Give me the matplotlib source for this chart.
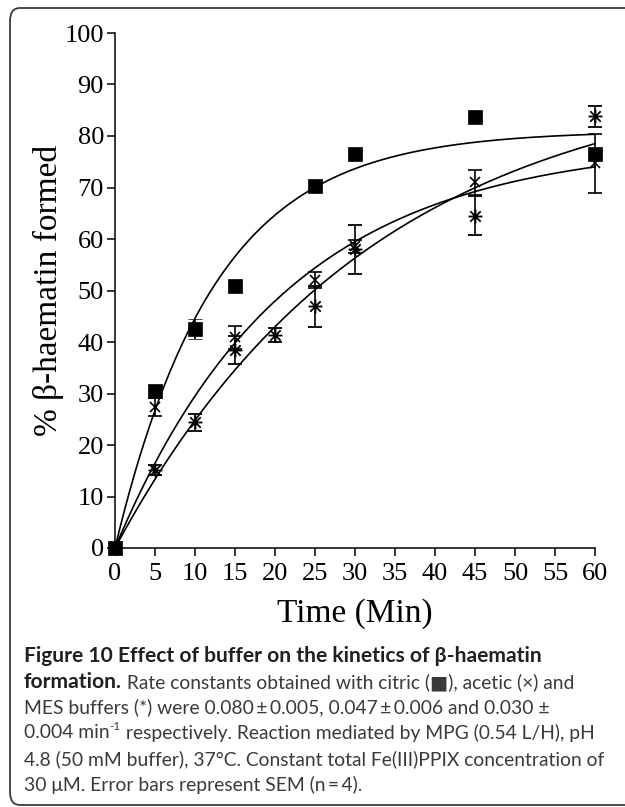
import numpy as np
import matplotlib
matplotlib.use("Agg")
import matplotlib.pyplot as plt
from matplotlib.patches import FancyBboxPatch
from matplotlib.path import Path

# ---------------- data ----------------
time_citric = [0, 5, 10, 15, 25, 30, 45, 60]
citric = [0, 30.4, 42.5, 50.9, 70.3, 76.6, 83.6, 76.5]
citric_err = [0, 1.2, 2.0, 1.0, 1.2, 0.6, 0.6, 0.8]

time_acetic = [0, 5, 15, 25, 30, 45, 60]
acetic = [0, 27.4, 40.9, 52.0, 58.6, 71.0, 74.7]
acetic_err = [0, 1.8, 2.2, 1.5, 1.3, 2.4, 5.7]

time_mes = [0, 5, 10, 15, 20, 25, 30, 45, 60]
mes = [0, 15.1, 24.4, 38.4, 41.4, 46.9, 58.0, 64.5, 83.8]
mes_err = [0, 1.0, 1.6, 2.7, 1.4, 4.0, 4.7, 3.8, 2.1]

# fitted first-order parameters (plateau A, rate constant k)
fit_citric = (81.0, 0.080)
fit_acetic = (78.7, 0.047)
fit_mes = (93.0, 0.031)

x_ticks = list(range(0, 61, 5))
y_ticks = list(range(0, 101, 10))

caption_line1 = "Figure 10 Effect of buffer on the kinetics of \u03b2-haematin"
caption_lines = [
    [("formation.", "bold"), (" Rate constants obtained with citric (\u25a0), acetic (\u00d7) and", "normal")],
    [("MES buffers (*) were 0.080\u2009\u00b1\u20090.005, 0.047\u2009\u00b1\u20090.006 and 0.030 \u00b1", "normal")],
    [("0.004 min", "normal"), ("-1", "sup"), (" respectively. Reaction mediated by MPG (0.54 L/H), pH", "normal")],
    [("4.8 (50 mM buffer), 37\u00b0C. Constant total Fe(III)PPIX concentration of", "normal")],
    [("30 \u03bcM. Error bars represent SEM (n\u2009=\u20094).", "normal")],
]

# ---------------- figure ----------------
W, H = 625, 807
fig = plt.figure(figsize=(W / 100, H / 100), dpi=100)

def fx(px):
    return px / W

def fy(py):
    return 1 - py / H

# border
border = FancyBboxPatch((fx(10), fy(805)), fx(650) - fx(10), fy(8) - fy(805),
                        boxstyle="round,pad=0,rounding_size=0.016",
                        transform=fig.transFigure, facecolor="none",
                        edgecolor="#3a3a3a", linewidth=1.3, clip_on=False)
fig.patches.append(border)

ax = fig.add_axes([fx(115), fy(548), fx(595) - fx(115), fy(33) - fy(548)])
ax.set_xlim(0, 60)
ax.set_ylim(0, 100)
for s in ["top", "right"]:
    ax.spines[s].set_visible(False)
for s in ["left", "bottom"]:
    ax.spines[s].set_linewidth(1.1)
ax.set_xticks(x_ticks)
ax.set_yticks(y_ticks)
serif = "Liberation Serif"
ax.tick_params(direction="out", length=6, width=1.1, labelsize=19)
ax.tick_params(axis="x", pad=5)
ax.tick_params(axis="y", pad=2)
for lab in ax.get_xticklabels() + ax.get_yticklabels():
    lab.set_fontfamily(serif)

# fitted curves
tt = np.linspace(0, 60, 300)
for A, k in (fit_citric, fit_acetic, fit_mes):
    ax.plot(tt, A * (1 - np.exp(-k * tt)), color="black", lw=1.2, clip_on=False)

# asterisk marker: vertical, horizontal and two diagonals
ast = Path([(0, -1), (0, 1), (-1, 0), (1, 0), (-0.75, -0.75), (0.75, 0.75), (-0.75, 0.75), (0.75, -0.75)],
           [Path.MOVETO, Path.LINETO, Path.MOVETO, Path.LINETO,
            Path.MOVETO, Path.LINETO, Path.MOVETO, Path.LINETO])

eb_kw = dict(ecolor="black", elinewidth=1.2, capsize=4.7, capthick=1.2, ls="none", clip_on=False)
ax.errorbar(time_mes, mes, yerr=mes_err, marker=ast, ms=10, mec="black", mew=1.3,
            mfc="none", **eb_kw)
ax.errorbar(time_acetic, acetic, yerr=acetic_err, marker="x", ms=7.5, mec="black", mew=1.2,
            **eb_kw)
ax.errorbar(time_citric, citric, yerr=citric_err, marker="s", ms=9.5, mec="black", mfc="black",
            mew=0.5, **eb_kw)
for c in ax.get_children():
    try:
        c.set_clip_on(False)
    except Exception:
        pass

# axis labels
fig.text(fx(355), fy(614), "Time (Min)", family=serif, fontsize=24, ha="center", va="center")
fig.text(fx(48), fy(290), "% \u03b2-haematin formed", family=serif, fontsize=24,
         rotation=90, ha="center", va="center")

# ---------------- caption ----------------
renderer = fig.canvas.get_renderer()
cap_family = ["Lato", "DejaVu Sans"]

def text_width(s, size, weight="normal"):
    t1 = fig.text(0, 0, "X" + s + "X", family=cap_family, fontsize=size, fontweight=weight)
    t2 = fig.text(0, 0, "XX", family=cap_family, fontsize=size, fontweight=weight)
    w = t1.get_window_extent(renderer).width - t2.get_window_extent(renderer).width
    t1.remove(); t2.remove()
    return w

x0 = 24
# fit font sizes to the reference widths of lines
w10 = text_width(caption_lines[3][0][0], 10)
cap_size = 10 * (606 - x0) / w10
wb10 = text_width(caption_line1, 10, "bold")
bold_size = 10 * (541 - x0) / wb10

col_bold = "#231f20"
col_reg = "#3a3a3a"
line_y = [656, 682, 707, 733, 759, 785]

fig.text(fx(x0), fy(line_y[0]), caption_line1, family=cap_family, fontsize=bold_size,
         fontweight="bold", color=col_bold, ha="left", va="center")

for i, segs in enumerate(caption_lines):
    x = x0
    y = line_y[i + 1]
    for s, kind in segs:
        if kind == "sup":
            size = cap_size * 0.6
            fig.text(fx(x), fy(y - 7), s, family=cap_family, fontsize=size, color=col_reg,
                     ha="left", va="center")
            x += text_width(s, size)
        else:
            weight = "bold" if kind == "bold" else "normal"
            color = col_bold if kind == "bold" else col_reg
            size = bold_size if kind == "bold" else cap_size
            fig.text(fx(x), fy(y), s, family=cap_family, fontsize=size, fontweight=weight,
                     color=color, ha="left", va="center")
            x += text_width(s, size, weight)

fig.savefig("out.png", dpi=100)
